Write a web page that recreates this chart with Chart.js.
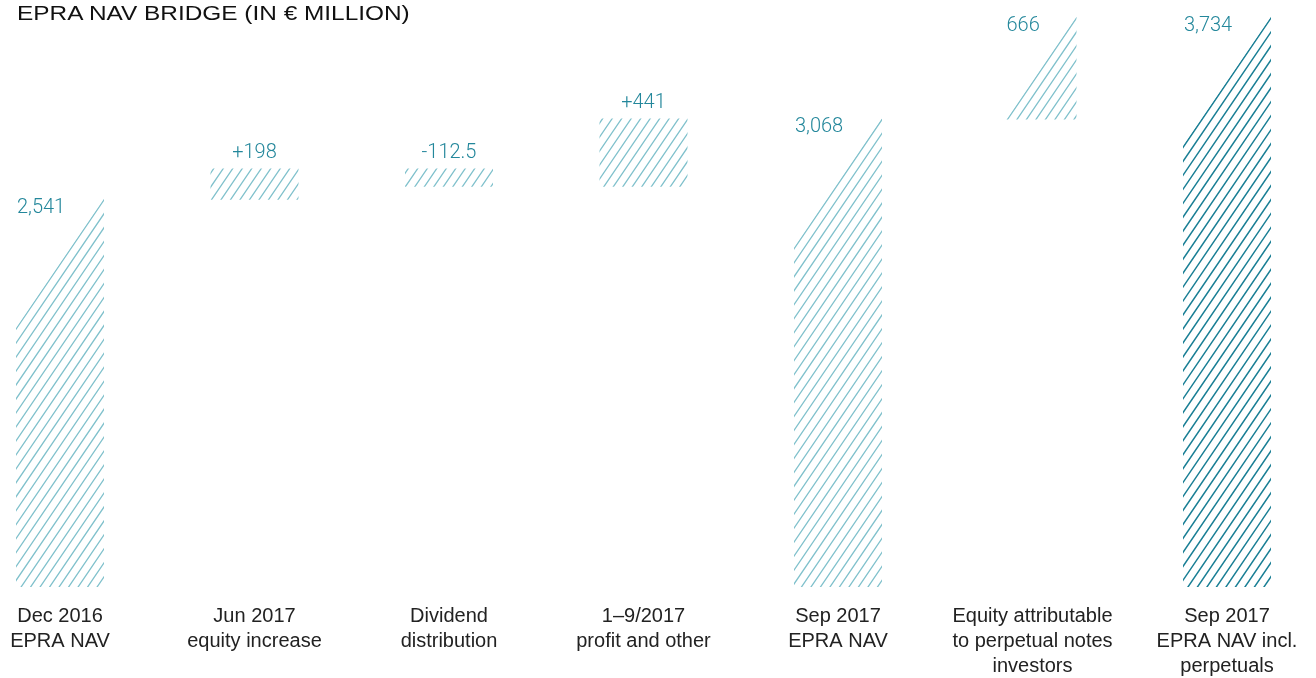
<!DOCTYPE html>
<html>
<head>
<meta charset="utf-8">
<script src="https://cdn.jsdelivr.net/npm/chart.js@4.4.0/dist/chart.umd.min.js"></script>
<style>
    html, body { margin: 0; padding: 0; background: #fff; }
    #wrap { position: relative; width: 1316px; height: 678px; }
    #title {
        position: absolute; left: 17px; top: 2px;
        font-family: "Liberation Sans", Arial, sans-serif;
        font-size: 20px; line-height: 22px; color: #111;
        transform: scaleX(1.22); transform-origin: left top;
        white-space: nowrap;
    }
</style>
</head>
<body>
<div id="wrap">
    <div id="title">EPRA NAV BRIDGE (IN € MILLION)</div>
    <canvas id="navChart"></canvas>
</div>
<script>
// Chart data
const categories = [
    ['Dec 2016', 'EPRA NAV'],
    ['Jun 2017', 'equity increase'],
    ['Dividend', 'distribution'],
    ['1–9/2017', 'profit and other'],
    ['Sep 2017', 'EPRA NAV'],
    ['Equity attributable', 'to perpetual notes', 'investors'],
    ['Sep 2017', 'EPRA NAV incl.', 'perpetuals']
];
const values = [2541, 198, -112.5, 441, 3068, 666, 3734];
const barKinds = ['total', 'delta', 'delta', 'delta', 'total', 'delta', 'total'];
const valueLabels = ['2,541', '+198', '-112.5', '+441', '3,068', '666', '3,734'];
const slantedTop = [true, false, false, false, true, true, true];

const LIGHT = '#80c1cc';
const DARK = '#1a7f95';
const LABEL_COLOR = '#23879b';
const SLOPE = 1.47; // rise per px of the hatch lines
const STEP = 9.5;   // horizontal gap between hatch lines

// Build floating ranges for the waterfall
function buildRanges() {
    let running = 0;
    return values.map((v, i) => {
        if (barKinds[i] === 'total') {
            running = v;
            return [0, v];
        }
        const start = running;
        running += v;
        return [start, running];
    });
}

// Draw hatching for every bar, and the value labels
const hatchPlugin = {
    id: 'hatch',
    afterDatasetsDraw(chart) {
        const ctx = chart.ctx;
        const meta = chart.getDatasetMeta(0);
        meta.data.forEach((bar, i) => {
            const p = bar.getProps(['x', 'y', 'base', 'width'], true);
            const left = p.x - p.width / 2;
            const right = p.x + p.width / 2;
            const top = Math.min(p.y, p.base);
            const bottom = Math.max(p.y, p.base);
            const h = bottom - top;
            const last = i === values.length - 1;

            ctx.save();
            ctx.beginPath();
            ctx.rect(left, top - 1, right - left, h + 1);
            ctx.clip();
            if (slantedTop[i]) {
                // keep only the part under the diagonal through the top-right corner
                const cx = right - 1.2;
                ctx.beginPath();
                ctx.moveTo(cx + 50, top - 50 * SLOPE);
                ctx.lineTo(cx - 2000, top + 2000 * SLOPE);
                ctx.lineTo(cx + 50, top + 2000 * SLOPE);
                ctx.closePath();
                ctx.clip();
            }
            ctx.strokeStyle = last ? DARK : LIGHT;
            ctx.lineWidth = last ? 1.5 : 1.3;
            const kMin = -Math.ceil(h / SLOPE / STEP) - 2;
            const kMax = Math.ceil(p.width / STEP) + 2;
            ctx.beginPath();
            for (let k = kMin; k <= kMax; k++) {
                const x0 = right - k * STEP;
                ctx.moveTo(x0 - (h + 10) / SLOPE, bottom + 10);
                ctx.lineTo(x0 + 10 / SLOPE, top - 10);
            }
            ctx.stroke();
            ctx.restore();

            // value label
            ctx.save();
            ctx.fillStyle = LABEL_COLOR;
            ctx.font = '300 20px Roboto, "Liberation Sans", sans-serif';
            if (slantedTop[i]) {
                ctx.textAlign = 'left';
                ctx.textBaseline = 'middle';
                const lx = barKinds[i] === 'total' ? left + 1 : left + 18;
                ctx.fillText(valueLabels[i], lx, top + 8);
            } else {
                ctx.textAlign = 'center';
                ctx.textBaseline = 'alphabetic';
                ctx.fillText(valueLabels[i], p.x, top - 12);
            }
            ctx.restore();
        });
    }
};

document.addEventListener('DOMContentLoaded', function() {
    new Chart(document.getElementById('navChart'), {
        type: 'bar',
        data: {
            labels: categories,
            datasets: [{
                data: buildRanges(),
                backgroundColor: 'rgba(0,0,0,0)',
                borderWidth: 0,
                barThickness: 88,
                clip: false
            }]
        },
        options: {
            responsive: true,
            maintainAspectRatio: false,
            animation: false,
            layout: {
                padding: { left: 60, right: 89, top: 18, bottom: 0 }
            },
            plugins: {
                legend: { display: false },
                tooltip: { enabled: false }
            },
            scales: {
                x: {
                    offset: false,
                    grid: { display: false, drawTicks: false },
                    border: { display: false },
                    afterFit(scale) {
                        scale.height = 91;
                        scale.paddingLeft = 0;
                        scale.paddingRight = 0;
                    },
                    ticks: {
                        autoSkip: false,
                        maxRotation: 0,
                        minRotation: 0,
                        padding: 17,
                        color: '#222',
                        font: { family: '"Liberation Sans", Arial, sans-serif', size: 20, lineHeight: 1.25 }
                    }
                },
                y: {
                    display: false,
                    min: 0,
                    max: 3734
                }
            }
        },
        plugins: [hatchPlugin]
    });
});
</script>
</body>
</html>
